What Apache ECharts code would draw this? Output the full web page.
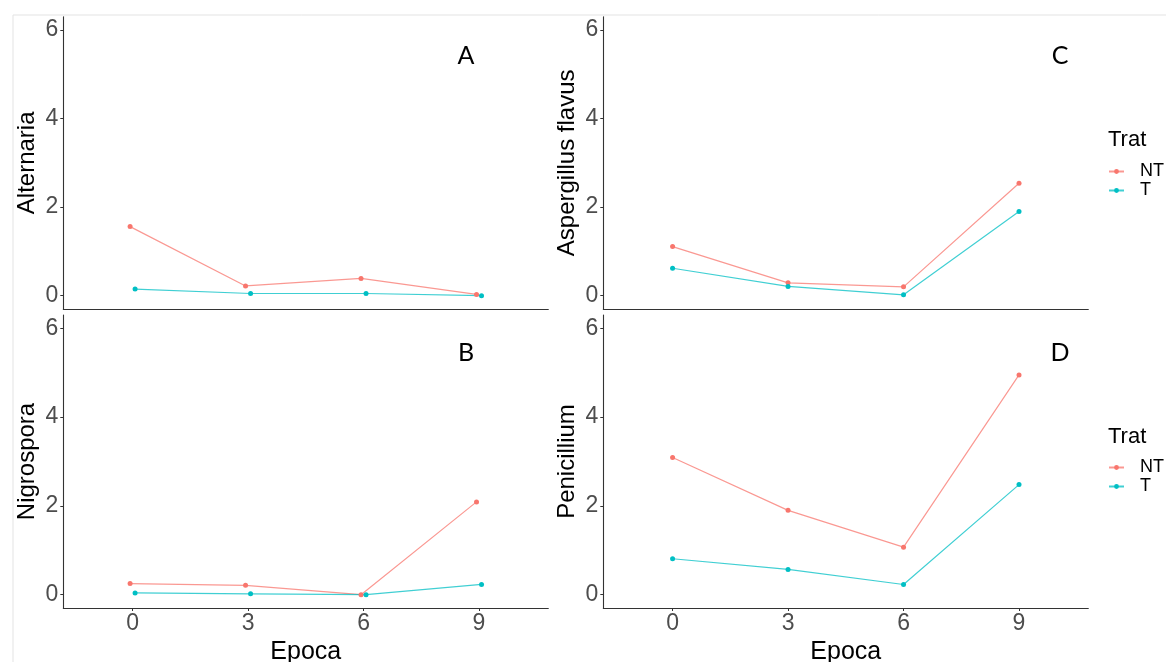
<!DOCTYPE html>
<html>
<head>
<meta charset="utf-8">
<script src="https://cdn.jsdelivr.net/npm/echarts@6/dist/echarts.min.js"></script>
<style>
html,body{margin:0;padding:0;background:#fff;}
#chart{width:1166px;height:662px;}
</style>
</head>
<body>
<div id="chart"></div>
<script>
// ---- data ----
const epocas = [0, 3, 6, 9];
const xTicks = [0, 3, 6, 9];
const yTicks = [0, 2, 4, 6];
const treatments = ['NT', 'T'];
const panelNames = ['Alternaria', 'Aspergillus flavus', 'Nigrospora', 'Penicillium'];
const panelLetters = ['A', 'C', 'B', 'D'];
const alternariaNT = [1.56, 0.22, 0.39, 0.03];
const alternariaT  = [0.15, 0.05, 0.05, 0.00];
const aspergillusNT = [1.11, 0.29, 0.20, 2.54];
const aspergillusT  = [0.62, 0.21, 0.02, 1.90];
const nigrosporaNT = [0.25, 0.21, 0.00, 2.09];
const nigrosporaT  = [0.04, 0.02, 0.00, 0.23];
const penicilliumNT = [3.09, 1.90, 1.07, 4.95];
const penicilliumT  = [0.81, 0.57, 0.23, 2.48];

const colors = { NT: '#F8766D', T: '#00BFC4' };
const AXIS_FONT = '"Liberation Sans", Arial, sans-serif';

// panel layout: [left, top, width, height], letter position, dodge (left column only)
const panels = [
  { name: panelNames[0], letter: panelLetters[0], nt: alternariaNT, t: alternariaT, grid: [63.3, 16.7, 485, 292.3], lp: [466, 56], dodge: 0.065, bottom: false },
  { name: panelNames[1], letter: panelLetters[1], nt: aspergillusNT, t: aspergillusT, grid: [603.3, 16.7, 485, 292.3], lp: [1060, 56], dodge: 0, bottom: false },
  { name: panelNames[2], letter: panelLetters[2], nt: nigrosporaNT, t: nigrosporaT, grid: [63.3, 315, 485, 293], lp: [466, 353], dodge: 0.065, bottom: true },
  { name: panelNames[3], letter: panelLetters[3], nt: penicilliumNT, t: penicilliumT, grid: [603.3, 315, 485, 293], lp: [1060, 353], dodge: 0, bottom: true }
];

const grids = [], xAxes = [], yAxes = [], series = [], graphics = [];
const axisLine = { show: true, onZero: false, lineStyle: { color: '#333', width: 1.1 } };

panels.forEach((p, i) => {
  grids.push({ left: p.grid[0], top: p.grid[1], width: p.grid[2], height: p.grid[3], containLabel: false, outerBoundsMode: 'none' });
  xAxes.push({
    type: 'value', gridIndex: i, min: -1.8, max: 10.8,
    axisLine: axisLine,
    axisTick: { show: p.bottom, length: 3, lineStyle: { color: '#333' }, customValues: xTicks },
    axisLabel: { show: p.bottom, customValues: xTicks, fontSize: 23, color: '#4d4d4d', fontFamily: AXIS_FONT, margin: 4 },
    splitLine: { show: false },
    name: p.bottom ? 'Epoca' : '', nameLocation: 'middle', nameGap: 32,
    nameTextStyle: { fontSize: 25, color: '#000', fontFamily: AXIS_FONT }
  });
  yAxes.push({
    type: 'value', gridIndex: i, min: -0.3, max: 6.3,
    axisLine: axisLine,
    axisTick: { show: true, length: 3, lineStyle: { color: '#333' }, customValues: yTicks },
    axisLabel: { customValues: yTicks, fontSize: 23, color: '#4d4d4d', fontFamily: AXIS_FONT, margin: 5 },
    splitLine: { show: false },
    name: p.name, nameLocation: 'middle', nameGap: 24,
    nameTextStyle: { fontSize: 24, color: '#000', fontFamily: AXIS_FONT }
  });
  [['NT', p.nt, -p.dodge], ['T', p.t, p.dodge]].forEach(([tr, vals, dx]) => {
    series.push({
      type: 'line', name: tr, xAxisIndex: i, yAxisIndex: i,
      data: epocas.map((e, k) => [e + dx, vals[k]]),
      symbol: 'circle', symbolSize: 5, showSymbol: true,
      lineStyle: { color: colors[tr], width: 1.2, opacity: 0.75 },
      itemStyle: { color: colors[tr] },
      emphasis: { disabled: true }, animation: false
    });
  });
  graphics.push({
    type: 'text', x: p.lp[0], y: p.lp[1],
    style: { text: p.letter, fontSize: 25, fontFamily: 'Lato, "Open Sans", sans-serif', fill: '#000', align: 'center', verticalAlign: 'middle' }
  });
});

// Legend titles
graphics.push({ type: 'text', x: 1108, y: 140, style: { text: 'Trat', fontSize: 22, fontFamily: AXIS_FONT, fill: '#000', verticalAlign: 'middle' } });
graphics.push({ type: 'text', x: 1108, y: 437, style: { text: 'Trat', fontSize: 22, fontFamily: AXIS_FONT, fill: '#000', verticalAlign: 'middle' } });
// outer light frame
graphics.push({ type: 'rect', left: 10.5, top: 12.5, shape: { x: 0, y: 0, width: 1300, height: 800 }, style: { fill: 'none', stroke: '#e3e3e3', lineWidth: 1 }, z: -1, silent: true });

const legendCommon = {
  orient: 'vertical', left: 1108, padding: 0, itemGap: 0,
  itemWidth: 15, itemHeight: 6,
  data: treatments,
  textStyle: { fontSize: 18, color: '#000', fontFamily: AXIS_FONT, lineHeight: 19, padding: [0, 0, 0, 11] },
  selectedMode: false
};

const chart = echarts.init(document.getElementById('chart'), null, { renderer: 'canvas' });
chart.setOption({
  backgroundColor: '#fff',
  animation: false,
  grid: grids, xAxis: xAxes, yAxis: yAxes, series: series,
  legend: [
    Object.assign({}, legendCommon, { top: 162 }),
    Object.assign({}, legendCommon, { top: 458 })
  ],
  graphic: graphics
});
</script>
</body>
</html>
